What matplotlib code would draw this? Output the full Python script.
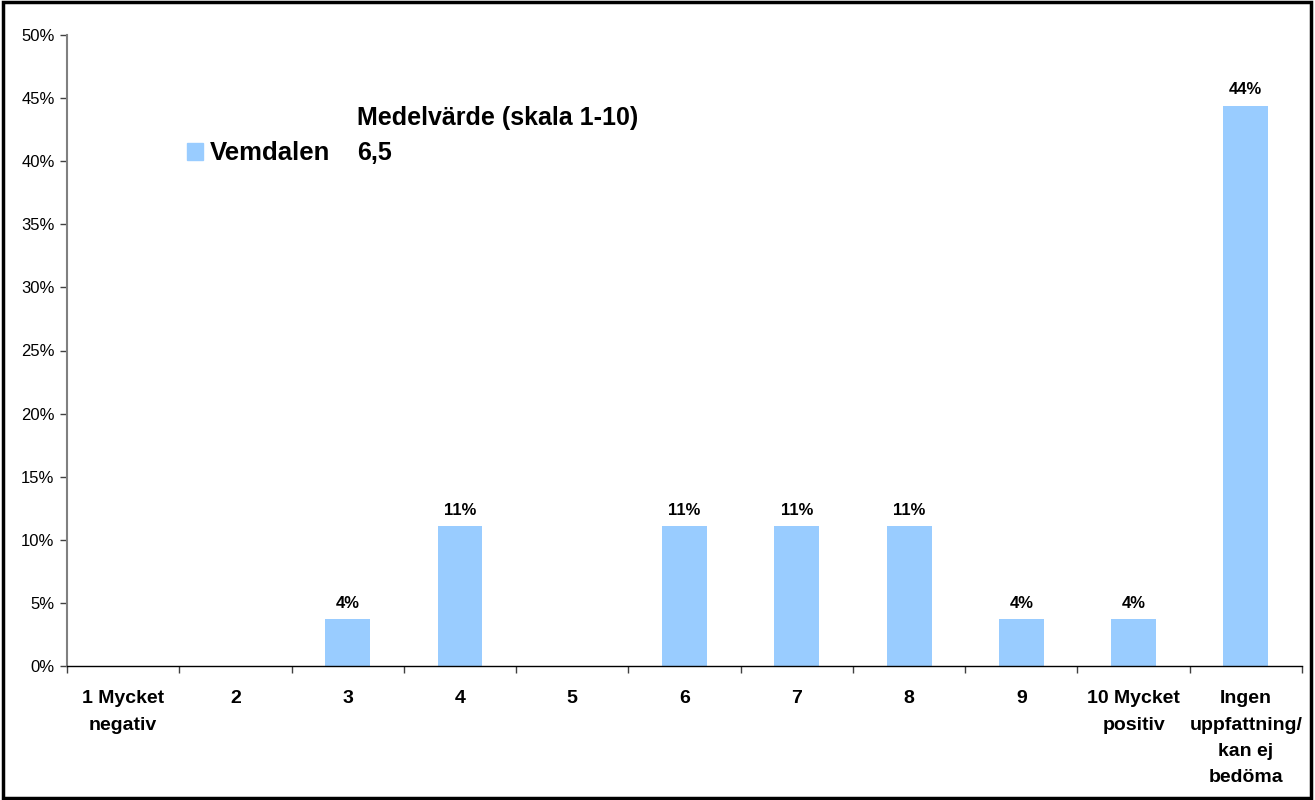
import numpy as np
import matplotlib.pyplot as plt
from matplotlib.patches import Rectangle

plt.rcParams['font.family'] = ['Liberation Sans', 'DejaVu Sans']

# svarsalternativ och andel svar
kategorier = ['1 Mycket\nnegativ', '2', '3', '4', '5', '6', '7', '8', '9',
              '10 Mycket\npositiv', 'Ingen\nuppfattning/\nkan ej\nbedöma']
andel = [0.0, 0.0, 3.7, 11.1, 0.0, 11.1, 11.1, 11.1, 3.7, 3.7, 44.4]
etiketter = ['', '', '4%', '11%', '', '11%', '11%', '11%', '4%', '4%', '44%']
serie = 'Vemdalen'
medel_rubrik = 'Medelvärde (skala 1-10)'
medel_varde = '6,5'

fig = plt.figure(figsize=(13.15, 8), dpi=100)
ax = fig.add_axes([67 / 1315, 1 - 666 / 800, (1302 - 67) / 1315, (666 - 35) / 800])

x = np.arange(len(kategorier))
ax.bar(x, andel, width=0.4, color='#99CCFF', zorder=2)
for xi, v, t in zip(x, andel, etiketter):
    if t:
        ax.text(xi, v + 0.65, t, ha='center', va='bottom', fontsize=12, fontweight='bold')

ax.set_xlim(-0.5, len(kategorier) - 0.5)
ax.set_ylim(0, 50)
ax.set_yticks(np.arange(0, 51, 5))
ax.set_yticklabels([f'{v}%' for v in range(0, 51, 5)], fontsize=12)

# streck mellan kategorierna, etiketter i mitten
ax.set_xticks(np.arange(-0.5, len(kategorier), 1))
ax.set_xticklabels([])
ax.set_xticks(x, minor=True)
ax.set_xticklabels(kategorier, minor=True, fontsize=14, fontweight='bold', linespacing=1.72)
ax.tick_params(axis='x', which='minor', length=0, pad=17.5)
ax.tick_params(axis='x', which='major', length=5, width=1, color='#404040')
ax.tick_params(axis='y', length=5, width=1, color='#404040', pad=4)

for s in ['top', 'right']:
    ax.spines[s].set_visible(False)
ax.spines['left'].set_color('#808080')
ax.spines['left'].set_linewidth(1.5)
ax.spines['bottom'].set_color('black')
ax.spines['bottom'].set_linewidth(1)

# legend och medelvärde
fig.patches.append(Rectangle((187 / 1315, 1 - 160 / 800), 16 / 1315, 17 / 800,
                             transform=fig.transFigure, color='#99CCFF'))
fig.text(210 / 1315, 1 - 153 / 800, serie, fontsize=18.5, fontweight='bold', va='center')
fig.text(357 / 1315, 1 - 118 / 800, medel_rubrik, fontsize=18, fontweight='bold', va='center')
fig.text(357 / 1315, 1 - 153 / 800, medel_varde, fontsize=18, fontweight='bold', va='center')

# ram runt hela bilden
fig.patches.append(Rectangle((0.002, 0.003), 0.995, 0.994, transform=fig.transFigure,
                             fill=False, edgecolor='black', linewidth=2.5))

fig.savefig('out.png', dpi=100)
